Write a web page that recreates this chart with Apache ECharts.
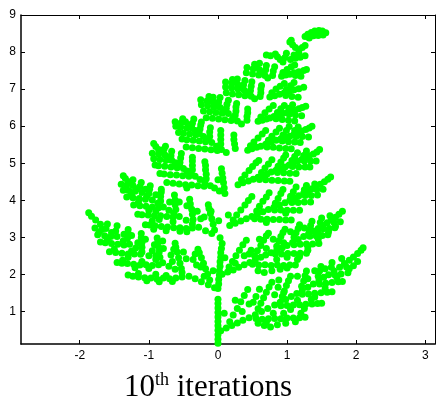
<!DOCTYPE html>
<html>
<head>
<meta charset="utf-8">
<script src="https://cdn.jsdelivr.net/npm/echarts@6/dist/echarts.min.js"></script>
<style>
  html, body { margin: 0; padding: 0; background: #fff; }
  #main { width: 436px; height: 398px; }
</style>
</head>
<body>
<div id="main"></div>
<script>
// tick values
const xTicks = [-2, -1, 0, 1, 2, 3];
const yTicks = [1, 2, 3, 4, 5, 6, 7, 8, 9];

// points, frond by frond
const stem = [[0,0.14],[0,0.25],[0,0.37],[0,0.49],[0,0.61],[0,0.73],[0,0.85],[0,0.97],[0,1.09],[0,1.21],[0,1.33]];

const rachis = [[0,1.62],[0.01,1.74],[0.01,1.86],[0.02,1.98],[0.02,2.1],[0.03,2.22],[0.03,2.34],[0.04,2.46],[0.04,2.58],[0.05,2.7],[0.06,2.83]];

const left1 = [[-0.05,1.64],[-0.14,1.72],[-0.24,1.8],[-0.33,1.88],[-0.42,1.95],[-0.52,2.05],[-0.62,2.14],[-0.71,2.22],[-0.8,2.31],[-0.9,2.4],[-1.0,2.5],
  [-1.1,2.6],[-1.19,2.71],[-1.28,2.81],[-1.37,2.91],[-1.46,3.02],[-1.54,3.13],[-1.62,3.24],[-1.7,3.35],[-1.77,3.47],[-1.83,3.57],[-1.87,3.66],
  [-0.52,1.93],[-0.61,1.9],[-0.7,1.88],[-0.79,1.9],[-0.88,1.87],[-0.97,1.9],[-1.06,1.91],[-1.15,1.93],[-1.23,1.95],[-1.3,1.98],[-0.66,1.81],[-0.85,1.8],[-1.03,1.83],[-0.75,1.97],
  [-0.86,2.26],[-0.95,2.24],[-1.04,2.26],[-1.13,2.25],[-1.22,2.27],[-1.31,2.29],[-1.39,2.3],[-1.46,2.32],[-1.0,2.16],[-1.2,2.18],
  [-1.12,2.54],[-1.21,2.55],[-1.3,2.55],[-1.39,2.57],[-1.48,2.59],[-1.57,2.61],[-1.3,2.46],
  [-1.36,2.79],[-1.45,2.81],[-1.54,2.83],[-1.63,2.85],[-1.7,2.87],
  [-1.55,3.02],[-1.64,3.04],[-1.74,3.07],[-1.68,3.21],[-1.78,3.25],
  [-0.12,1.85],[-0.15,2.0],[-0.18,2.15],[-0.21,2.3],[-0.24,2.45],[-0.27,2.58],[-0.29,2.68],[-0.31,2.25],[-0.36,2.4],[-0.07,2.1],
  [-0.53,2.16],[-0.55,2.3],[-0.57,2.45],[-0.59,2.6],[-0.61,2.73],[-0.62,2.84],[-0.46,2.42],[-0.68,2.52],
  [-0.84,2.46],[-0.85,2.6],[-0.86,2.74],[-0.87,2.87],[-0.88,2.98],[-0.79,2.7],[-0.95,2.64],
  [-1.1,2.73],[-1.1,2.86],[-1.11,2.99],[-1.11,3.1],[-1.31,2.97],[-1.3,3.1],[-1.3,3.21],[-1.48,3.17],[-1.46,3.31],[-1.6,3.36],
  [-0.2,1.95],[-0.25,2.2],[-0.33,2.55],[-0.5,2.6],[-0.66,2.35],[-0.64,2.68],[-0.92,2.8],[-0.8,2.9],[-0.9,2.5],[-1.05,2.95],[-1.16,2.85],
  [-1.25,3.05],[-1.36,3.08],[-0.9,2.0],[-1.15,2.02],[-1.38,2.38],[-1.1,2.35],[-1.5,2.68],[-1.25,2.63],[-1.6,2.93],[-1.72,3.14]];

const right1 = [[0.04,0.48],[0.12,0.55],[0.2,0.62],[0.28,0.69],[0.36,0.76],[0.45,0.83],[0.54,0.91],[0.63,1.0],[0.72,1.08],[0.82,1.17],[0.9,1.25],
  [0.98,1.32],[1.06,1.4],[1.14,1.48],[1.22,1.56],[1.3,1.65],[1.38,1.74],[1.46,1.83],[1.53,1.92],[1.6,1.99],[1.68,2.09],[1.76,2.19],[1.83,2.29],
  [1.9,2.38],[1.96,2.47],[2.02,2.56],[2.07,2.65],[2.1,2.72],
  [0.55,0.81],[0.64,0.79],[0.73,0.8],[0.82,0.81],[0.91,0.8],[1.0,0.82],[1.09,0.82],[1.18,0.83],[1.26,0.84],[0.76,0.58],[0.67,0.62],[0.86,0.64],[0.98,0.68],[0.58,0.68],[1.12,0.72],
  [0.91,1.15],[1.0,1.16],[1.09,1.17],[1.18,1.18],[1.27,1.19],[1.36,1.2],[1.44,1.21],[1.5,1.22],[1.05,1.05],[1.25,1.08],
  [1.22,1.46],[1.31,1.47],[1.4,1.49],[1.49,1.5],[1.58,1.52],[1.65,1.53],[1.4,1.39],
  [1.47,1.74],[1.56,1.76],[1.65,1.78],[1.74,1.8],[1.8,1.81],[1.69,1.99],[1.78,2.01],[1.88,2.04],[1.86,2.2],[1.96,2.23],
  [0.17,0.72],[0.22,0.9],[0.28,1.08],[0.33,1.26],[0.38,1.43],[0.43,1.59],[0.09,0.95],[0.45,1.2],
  [0.58,1.07],[0.62,1.22],[0.66,1.37],[0.7,1.52],[0.74,1.66],[0.78,1.79],[0.51,1.25],[0.82,1.45],
  [0.93,1.4],[0.96,1.55],[0.99,1.7],[1.02,1.83],[1.05,1.95],[0.87,1.65],
  [1.21,1.68],[1.24,1.82],[1.26,1.96],[1.28,2.09],[1.45,1.95],[1.47,2.09],[1.49,2.21],[1.64,2.19],[1.65,2.32],[1.79,2.43],
  [0.35,1.0],[0.25,1.3],[0.6,1.6],[0.55,1.4],[0.88,1.85],[0.95,1.5],[1.15,1.95],[1.3,1.88],[1.4,2.1],[1.55,2.15],[0.8,0.95],[0.95,0.95],
  [1.2,0.95],[1.35,1.32],[1.55,1.63],[1.72,1.92],[1.9,2.15],[2.02,2.35],[1.15,1.3],[0.7,0.7]];

const left2 = [[0.03,2.99],[-0.09,3.1],[-0.18,3.18],[-0.28,3.27],[-0.37,3.36],[-0.46,3.46],[-0.56,3.56],[-0.64,3.65],[-0.71,3.73],[-0.79,3.82],
  [-0.87,3.92],[-0.95,4.01],[-1.03,4.11],[-1.1,4.21],[-1.17,4.31],[-1.23,4.4],[-1.29,4.5],[-1.34,4.59],[-1.37,4.66],
  [-0.37,3.25],[-0.46,3.24],[-0.55,3.26],[-0.64,3.26],[-0.73,3.28],[-0.82,3.29],[-0.91,3.31],[-0.99,3.33],[-1.05,3.34],[-0.55,3.16],[-0.75,3.18],[-0.93,3.22],
  [-0.65,3.55],[-0.74,3.56],[-0.83,3.58],[-0.92,3.58],[-1.01,3.6],[-1.1,3.61],[-1.16,3.62],[-0.85,3.48],
  [-0.86,3.8],[-0.95,3.82],[-1.04,3.84],[-1.13,3.85],[-1.22,3.87],[-1.0,3.73],
  [-1.05,4.03],[-1.14,4.05],[-1.23,4.07],[-1.32,4.09],[-1.2,4.24],[-1.29,4.26],[-1.37,4.27],[-1.32,4.41],[-1.4,4.43],
  [-0.05,3.2],[-0.07,3.35],[-0.09,3.5],[-0.11,3.64],[-0.13,3.78],[-0.14,3.88],[-0.2,3.55],[0.01,3.45],
  [-0.36,3.48],[-0.37,3.62],[-0.38,3.76],[-0.4,3.9],[-0.41,4.03],[-0.3,3.7],
  [-0.61,3.75],[-0.62,3.88],[-0.62,4.01],[-0.63,4.14],[-0.56,3.95],
  [-0.83,3.98],[-0.83,4.1],[-0.82,4.22],[-0.82,4.3],[-1.0,4.18],[-0.99,4.3],[-0.98,4.39],[-1.13,4.37],[-1.11,4.48],[-1.23,4.55],
  [-0.45,3.15],[-0.65,3.42],[-0.95,3.45],[-0.9,3.7],[-1.15,3.95],[-0.25,3.5],[-0.45,3.85],[-0.7,3.95],[-0.9,4.15],[-1.05,4.3],[-0.1,3.7],[-1.25,4.18]];

const right2 = [[0.06,2.0],[0.14,2.06],[0.22,2.12],[0.3,2.19],[0.38,2.26],[0.46,2.32],[0.54,2.39],[0.62,2.46],[0.69,2.52],[0.77,2.58],[0.85,2.65],
  [0.93,2.72],[1.0,2.78],[1.08,2.86],[1.16,2.94],[1.24,3.02],[1.31,3.09],[1.38,3.17],[1.45,3.24],[1.52,3.32],[1.58,3.39],[1.64,3.47],[1.7,3.54],[1.75,3.62],[1.8,3.7],
  [0.5,2.27],[0.59,2.25],[0.68,2.26],[0.77,2.24],[0.86,2.25],[0.95,2.24],[1.04,2.25],[1.12,2.25],[0.67,2.05],[0.58,2.1],[0.78,2.1],[0.9,2.14],[1.0,2.17],
  [0.83,2.55],[0.92,2.55],[1.01,2.56],[1.1,2.56],[1.19,2.57],[1.28,2.57],[1.0,2.46],[1.18,2.48],
  [1.1,2.8],[1.19,2.81],[1.28,2.82],[1.37,2.82],[1.46,2.83],[1.3,2.74],
  [1.33,3.03],[1.42,3.04],[1.51,3.05],[1.59,3.07],[1.52,3.23],[1.61,3.24],[1.69,3.26],[1.68,3.4],[1.77,3.42],
  [0.16,2.2],[0.21,2.35],[0.26,2.5],[0.31,2.65],[0.36,2.8],[0.41,2.92],[0.1,2.45],[0.38,2.5],
  [0.53,2.5],[0.57,2.64],[0.62,2.78],[0.66,2.92],[0.7,3.04],[0.73,3.11],[0.48,2.65],
  [0.85,2.76],[0.88,2.9],[0.91,3.02],[0.94,3.13],[0.97,3.22],[0.8,2.95],
  [1.1,3.0],[1.13,3.12],[1.16,3.24],[1.18,3.34],[1.32,3.2],[1.34,3.32],[1.36,3.43],[1.48,3.4],[1.5,3.52],[1.62,3.58],
  [0.25,2.3],[0.45,2.55],[0.7,2.7],[0.6,2.95],[0.95,2.85],[1.05,3.15],[1.25,3.25],[1.45,3.1],[0.85,2.4],[1.15,2.4],[1.3,2.65],[1.45,2.95],[1.6,3.15],[1.7,3.3]];

const left3 = [[0.1,4.18],[0.02,4.25],[-0.05,4.33],[-0.11,4.39],[-0.19,4.48],[-0.26,4.56],[-0.33,4.65],[-0.39,4.72],[-0.45,4.79],[-0.5,4.86],
  [-0.56,4.94],[-0.62,5.01],[-0.67,5.08],[-0.72,5.15],[-0.77,5.23],[-0.82,5.3],[-0.86,5.37],[-0.9,5.45],[-0.93,5.53],
  [-0.2,4.38],[-0.29,4.39],[-0.38,4.41],[-0.47,4.42],[-0.56,4.44],[-0.65,4.46],[-0.74,4.48],[-0.45,4.33],
  [-0.42,4.65],[-0.51,4.66],[-0.6,4.68],[-0.69,4.69],[-0.78,4.71],[-0.84,4.72],
  [-0.59,4.88],[-0.68,4.9],[-0.77,4.92],[-0.86,4.93],[-0.91,4.95],[-0.75,5.08],[-0.84,5.1],[-0.93,5.12],[-0.86,5.25],[-0.95,5.27],
  [0.09,4.33],[0.08,4.47],[0.07,4.6],[0.06,4.73],[0.05,4.85],[0.0,4.55],
  [-0.17,4.58],[-0.17,4.7],[-0.18,4.82],[-0.18,4.94],[-0.19,5.04],
  [-0.37,4.82],[-0.37,4.94],[-0.37,5.06],[-0.37,5.16],[-0.55,5.02],[-0.54,5.14],[-0.53,5.26],
  [-0.68,5.2],[-0.67,5.32],[-0.78,5.38],[-0.76,5.46]];

const right3 = [[0.17,3.32],[0.25,3.38],[0.33,3.44],[0.41,3.5],[0.49,3.56],[0.57,3.62],[0.65,3.69],[0.73,3.75],[0.81,3.81],[0.89,3.87],[0.97,3.93],
  [1.04,4.0],[1.11,4.06],[1.17,4.12],[1.24,4.19],[1.3,4.25],[1.36,4.31],[1.42,4.37],[1.48,4.43],[1.54,4.5],[1.59,4.57],[1.63,4.63],
  [0.53,3.5],[0.62,3.49],[0.71,3.49],[0.8,3.48],[0.89,3.48],[0.98,3.47],[1.06,3.47],[0.7,3.4],
  [0.82,3.74],[0.91,3.74],[1.0,3.73],[1.09,3.73],[1.18,3.73],[0.98,3.65],
  [1.07,3.94],[1.16,3.94],[1.25,3.95],[1.34,3.95],[1.26,4.13],[1.35,4.13],[1.44,4.14],[1.43,4.29],[1.52,4.3],
  [0.22,3.47],[0.27,3.6],[0.33,3.74],[0.39,3.87],[0.44,3.99],[0.49,4.1],[0.15,3.6],
  [0.56,3.71],[0.6,3.84],[0.65,3.97],[0.7,4.09],[0.74,4.2],
  [0.83,3.92],[0.87,4.05],[0.91,4.18],[0.94,4.29],[1.05,4.11],[1.09,4.23],[1.13,4.36],[1.25,4.28],[1.28,4.4],[1.4,4.44]];

const left4 = [[0.12,5.29],[0.05,5.37],[-0.02,5.46],[-0.09,5.56],[-0.15,5.64],[-0.21,5.72],[-0.27,5.8],[-0.33,5.88],
  [-0.38,5.96],[-0.43,6.04],[-0.47,6.12],[-0.51,6.2],
  [-0.01,5.34],[-0.1,5.36],[-0.19,5.38],[-0.28,5.4],[-0.37,5.42],[-0.46,5.44],
  [-0.18,5.58],[-0.27,5.6],[-0.36,5.62],[-0.45,5.63],[-0.52,5.65],
  [-0.32,5.77],[-0.41,5.79],[-0.5,5.81],[-0.57,5.83],[-0.45,5.95],[-0.54,5.97],[-0.61,6.0],[-0.53,6.1],[-0.62,6.12],
  [0.25,5.4],[0.24,5.52],[0.23,5.64],[0.23,5.76],[0.04,5.52],[0.04,5.64],[0.04,5.76],[0.04,5.88],
  [-0.12,5.72],[-0.12,5.84],[-0.11,5.96],[-0.26,5.92],[-0.25,6.03],[-0.24,6.11],[-0.37,6.08],[-0.35,6.19]];

const right4 = [[0.29,4.42],[0.36,4.47],[0.44,4.52],[0.51,4.57],[0.58,4.62],[0.65,4.67],[0.71,4.71],[0.77,4.76],[0.84,4.81],[0.91,4.86],[0.97,4.9],
  [1.03,4.95],[1.09,5.0],[1.15,5.05],[1.21,5.1],[1.27,5.15],[1.32,5.2],[1.38,5.25],[1.43,5.3],[1.47,5.37],
  [0.6,4.56],[0.69,4.55],[0.78,4.54],[0.87,4.53],[0.96,4.52],[1.04,4.51],[0.86,4.75],[0.95,4.74],[1.04,4.73],[1.13,4.72],
  [1.08,4.91],[1.17,4.9],[1.26,4.9],[1.33,4.9],[1.25,5.06],[1.34,5.06],[1.42,5.06],
  [0.34,4.56],[0.39,4.68],[0.45,4.8],[0.5,4.91],[0.55,5.01],[0.59,5.07],[0.63,4.75],[0.68,4.87],[0.73,4.98],[0.78,5.09],
  [0.87,4.92],[0.91,5.03],[0.95,5.14],[0.98,5.22],[1.07,5.07],[1.11,5.18],[1.15,5.28],[1.24,5.21],[1.28,5.33]];

const left5 = [[0.34,6.06],[0.28,6.14],[0.22,6.24],[0.15,6.34],[0.09,6.42],[0.03,6.5],[-0.02,6.58],[-0.07,6.65],[-0.11,6.73],[-0.13,6.8],
  [0.19,6.15],[0.1,6.17],[0.01,6.19],[-0.08,6.21],[-0.17,6.23],[0.06,6.35],[-0.03,6.37],[-0.12,6.39],[-0.21,6.41],
  [-0.06,6.52],[-0.15,6.55],[-0.24,6.58],[-0.16,6.68],[-0.25,6.71],
  [0.42,6.16],[0.42,6.26],[0.43,6.36],[0.43,6.46],[0.25,6.3],[0.26,6.41],[0.26,6.52],[0.27,6.61],
  [0.12,6.48],[0.13,6.59],[0.15,6.7],[0.01,6.65],[0.03,6.77],[-0.07,6.78]];

const right5 = [[0.43,5.35],[0.49,5.39],[0.56,5.43],[0.62,5.46],[0.69,5.51],[0.77,5.57],[0.84,5.62],[0.91,5.66],[0.98,5.7],[1.04,5.73],[1.1,5.78],
  [1.15,5.82],[1.21,5.87],[1.27,5.91],[1.32,5.95],[1.36,6.0],
  [0.71,5.44],[0.8,5.43],[0.89,5.41],[0.98,5.4],[1.06,5.39],[0.93,5.6],[1.02,5.58],[1.11,5.57],[1.19,5.56],[1.13,5.72],[1.22,5.72],[1.31,5.71],
  [0.47,5.47],[0.52,5.57],[0.58,5.68],[0.64,5.79],[0.69,5.88],[0.73,5.62],[0.78,5.73],[0.84,5.84],[0.89,5.94],
  [0.94,5.76],[0.99,5.88],[1.03,5.99],[1.11,5.88],[1.16,5.98]];

const left6 = [[0.53,6.74],[0.48,6.81],[0.43,6.89],[0.38,6.97],[0.33,7.05],[0.29,7.12],[0.25,7.19],[0.21,7.26],
  [0.39,6.82],[0.3,6.85],[0.21,6.87],[0.12,6.9],[0.29,7.0],[0.2,7.03],[0.11,7.06],[0.2,7.15],[0.11,7.19],
  [0.61,6.8],[0.62,6.9],[0.62,7.0],[0.63,7.1],[0.47,6.96],[0.48,7.08],[0.49,7.2],[0.37,7.12],[0.39,7.23],[0.28,7.27]];

const right6 = [[0.58,6.13],[0.64,6.16],[0.7,6.19],[0.75,6.22],[0.81,6.26],[0.88,6.3],[0.94,6.34],[1.0,6.37],[1.06,6.4],[1.11,6.43],[1.17,6.47],
  [1.22,6.5],[1.27,6.54],
  [0.84,6.2],[0.93,6.18],[1.02,6.16],[1.11,6.14],[1.03,6.32],[1.12,6.3],[1.21,6.28],
  [0.62,6.25],[0.68,6.36],[0.74,6.46],[0.8,6.56],[0.86,6.37],[0.91,6.47],[0.96,6.56],[1.03,6.48],[1.08,6.58]];

const left7 = [[0.72,7.3],[0.68,7.37],[0.64,7.45],[0.6,7.52],[0.56,7.6],[0.53,7.67],
  [0.59,7.38],[0.5,7.41],[0.41,7.44],[0.51,7.55],[0.42,7.58],
  [0.79,7.37],[0.8,7.49],[0.82,7.6],[0.69,7.52],[0.7,7.64],[0.6,7.7]];

const right7 = [[0.75,6.79],[0.82,6.82],[0.89,6.86],[0.96,6.9],[1.03,6.94],[1.1,6.98],[1.17,7.01],[1.24,7.05],
  [0.98,6.83],[1.07,6.8],[1.16,6.78],
  [0.78,6.9],[0.84,7.0],[0.9,7.08],[0.96,7.15],[0.99,6.99],[1.05,7.09],[1.1,7.18]];

const topFronds = [[0.94,7.73],[0.9,7.8],[0.86,7.87],[0.83,7.95],[0.76,7.9],[0.7,7.92],[0.97,7.85],[0.99,7.97],
  [0.92,7.35],[0.98,7.38],[1.04,7.4],[1.1,7.44],[1.17,7.47],[1.24,7.5],[1.28,7.53],[0.94,7.45],[1.0,7.53],[1.06,7.6],[1.11,7.65],[1.12,7.37],[1.2,7.35],
  [1.04,8.27],[1.08,8.2],[1.12,8.12],[1.17,8.06],[1.22,8.12],[1.26,8.18],[1.06,8.32],
  [1.05,7.8],[1.12,7.83],[1.19,7.86],[1.26,7.9],[1.1,7.92],[1.17,7.98],
  [1.26,8.42],[1.3,8.48],[1.35,8.53],[1.4,8.57],[1.46,8.58],[1.51,8.57],[1.56,8.52],[1.52,8.46],[1.45,8.45],[1.38,8.44],[1.32,8.38]];

const fern = [].concat(stem, rachis, left1, right1, left2, right2, left3, right3,
  left4, right4, left5, right5, left6, right6, left7, right7, topFronds);

const chart = echarts.init(document.getElementById('main'));

const labelFont = {color: '#000', fontSize: 12, fontFamily: 'Liberation Sans, Arial, sans-serif'};

const option = {
  animation: false,
  backgroundColor: '#fff',
  grid: {left: 21, right: 1, top: 15, bottom: 54},
  title: {
    text: '{a|10}{b|th}{a| iterations}',
    left: 119,
    top: 366,
    textStyle: {
      fontWeight: 'normal',
      rich: {
        a: {fontSize: 31, fontWeight: 'normal', fontFamily: 'Liberation Serif, Times New Roman, serif', color: '#000', lineHeight: 34},
        b: {fontSize: 18, fontWeight: 'normal', fontFamily: 'Liberation Serif, Times New Roman, serif', color: '#000', verticalAlign: 'top', lineHeight: 20}
      }
    }
  },
  xAxis: [
    {
      type: 'value', position: 'bottom', min: -2.85, max: 3.14,
      axisLine: {onZero: false, lineStyle: {color: '#000', width: 1.5}},
      axisTick: {inside: true, length: 4, lineStyle: {color: '#000'}, customValues: xTicks},
      axisLabel: Object.assign({margin: 6, customValues: xTicks}, labelFont),
      splitLine: {show: false}
    },
    {
      type: 'value', position: 'top', min: -2.85, max: 3.14,
      axisLine: {onZero: false, lineStyle: {color: '#000', width: 1}},
      axisTick: {inside: true, length: 4, lineStyle: {color: '#000'}, customValues: xTicks},
      axisLabel: {show: false},
      splitLine: {show: false}
    }
  ],
  yAxis: [
    {
      type: 'value', position: 'left', min: 0.12, max: 9,
      axisLine: {show: true, onZero: false, lineStyle: {color: '#000', width: 1.5}},
      axisTick: {show: true, inside: true, length: 4, lineStyle: {color: '#000'}, customValues: yTicks},
      axisLabel: Object.assign({margin: 5, customValues: yTicks}, labelFont),
      splitLine: {show: false}
    },
    {
      type: 'value', position: 'right', min: 0.12, max: 9,
      axisLine: {show: true, onZero: false, lineStyle: {color: '#000', width: 1}},
      axisTick: {show: true, inside: true, length: 4, lineStyle: {color: '#000'}, customValues: yTicks},
      axisLabel: {show: false},
      splitLine: {show: false}
    }
  ],
  series: [
    {
      type: 'scatter',
      name: 'fern',
      data: fern,
      symbol: 'circle',
      symbolSize: 7,
      itemStyle: {color: '#00ff00', opacity: 1},
      emphasis: {disabled: true},
      xAxisIndex: 0,
      yAxisIndex: 0
    }
  ]
};

chart.setOption(option);
</script>
</body>
</html>
